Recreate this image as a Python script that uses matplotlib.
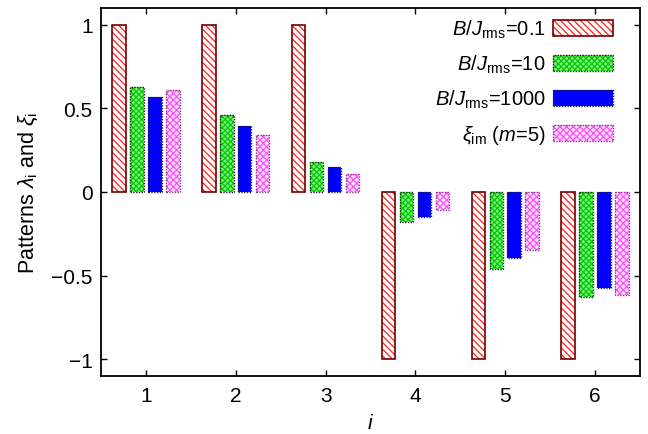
import matplotlib
matplotlib.use("Agg")
import matplotlib.pyplot as plt
import numpy as np
from matplotlib.legend_handler import HandlerTuple

plt.rcParams['font.family'] = ['Liberation Sans', 'DejaVu Sans']
plt.rcParams['mathtext.fontset'] = 'custom'
plt.rcParams['mathtext.rm'] = 'Liberation Sans'
plt.rcParams['mathtext.it'] = 'Liberation Sans:italic'
plt.rcParams['hatch.linewidth'] = 0.9

idx = [1, 2, 3, 4, 5, 6]
b01 = [1, 1, 1, -1, -1, -1]
b10 = [0.625, 0.46, 0.18, -0.18, -0.46, -0.63]
b1000 = [0.567, 0.393, 0.15, -0.15, -0.393, -0.573]
xi_im = [0.61, 0.34, 0.11, -0.11, -0.345, -0.615]

labels = [r'$B/J_{\mathrm{rms}}$=0.1', r'$B/J_{\mathrm{rms}}$=10',
          r'$B/J_{\mathrm{rms}}$=1000', r'$\xi_{\mathrm{im}}$ ($m$=5)']

fig = plt.figure(figsize=(6.48, 4.35), dpi=100)
ax = fig.add_axes([101/648, 1-377/435, 539/648, 368/435])
x = np.array(idx)
w = 0.15

r1 = ax.bar(x - 0.3, b01, w, facecolor='white', edgecolor='#ff2020', hatch='\\\\\\\\\\', linewidth=0)
r2 = ax.bar(x - 0.3, b01, w, fill=False, edgecolor='#700000', linewidth=1.2)
g1 = ax.bar(x - 0.1, b10, w, facecolor='#70ff70', edgecolor='#10c010', hatch='xxxxxx', linewidth=0)
g2 = ax.bar(x - 0.1, b10, w, fill=False, edgecolor='#202020', linewidth=1.0, linestyle=(0, (1, 1)))
bl1 = ax.bar(x + 0.1, b1000, w, facecolor='#0000ff', edgecolor='#0000ff', linewidth=0)
bl2 = ax.bar(x + 0.1, b1000, w, fill=False, edgecolor='#202040', linewidth=1.0, linestyle=(0, (1, 1)))
p1 = ax.bar(x + 0.3, xi_im, w, facecolor='#ffe0ff', edgecolor='#ff50ff', hatch='xxxxx', linewidth=0)
p2 = ax.bar(x + 0.3, xi_im, w, fill=False, edgecolor='#804080', linewidth=1.0, linestyle=(0, (1, 1)))

ax.set_xlim(0.5, 6.5)
ax.set_ylim(-1.1, 1.1)
ax.set_xticks(idx)
ax.set_yticks([-1, -0.5, 0, 0.5, 1])
ax.set_yticklabels(['\u22121', '\u22120.5', '0', '0.5', '1'])
ax.tick_params(direction='in', top=True, right=True, labelsize=15, length=4, width=1)
ax.tick_params(axis='x', pad=7)
ax.tick_params(axis='y', pad=6)
for s in ax.spines.values():
    s.set_linewidth(1.3)
ax.set_xlabel(r'$i$', fontsize=15, labelpad=6)
ax.set_ylabel(r'Patterns $\lambda_{\mathrm{i}}$ and $\xi_{\mathrm{i}}$', fontsize=15.5, labelpad=8)

leg = ax.legend([(r1[0], r2[0]), (g1[0], g2[0]), (bl1[0], bl2[0]), (p1[0], p2[0])], labels,
                handler_map={tuple: HandlerTuple(ndivide=1, pad=0)},
                loc='upper right', bbox_to_anchor=((613 - 101) / 539, 0.974),
                frameon=False, markerfirst=False, fontsize=14.5,
                handlelength=3.0, handleheight=0.85, labelspacing=0.63,
                borderaxespad=0, borderpad=0, handletextpad=0.35)

fig.savefig('out.png', dpi=100)
